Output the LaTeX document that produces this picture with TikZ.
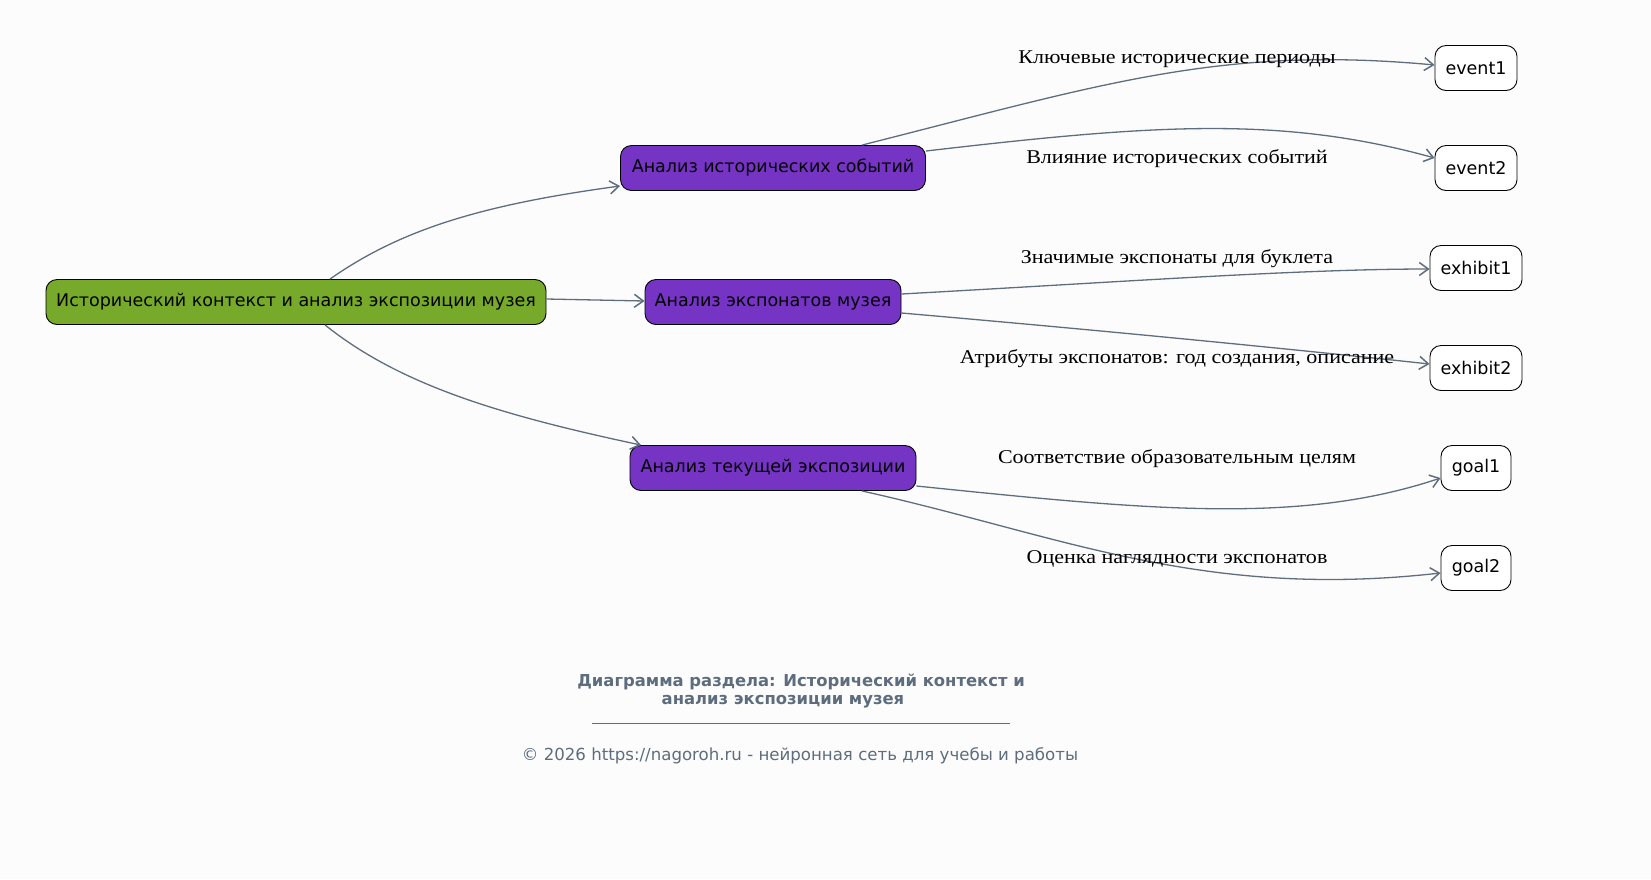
\documentclass[tikz,border=0pt]{standalone}
\usepackage{fontspec}
\setmainfont{Liberation Serif}
\newfontfamily\labfont[FakeStretch=1.13]{Liberation Serif}
\newfontfamily\dv{DejaVu Sans}
\usetikzlibrary{arrows.meta}
\definecolor{bg}{HTML}{FDFCFC}
\definecolor{edgec}{HTML}{5F6E7E}
\definecolor{rootc}{HTML}{77AA2A}
\definecolor{purp}{HTML}{7634C4}
\definecolor{foot}{HTML}{5D6D7E}
\begin{document}
\begin{tikzpicture}[x=1pt,y=-1pt,
  box/.style={draw=black,line width=0.9pt,rounded corners=11pt,minimum height=45pt,inner sep=0pt,font=\dv\fontsize{17.5}{20}\selectfont,anchor=center},
  rootbox/.style={box,fill=rootc},
  midbox/.style={box,fill=purp},
  leafbox/.style={box,fill=white},
  conn/.style={draw=edgec,line width=1.3pt,-{Straight Barb[length=9pt,width=13pt,line width=1.5pt]}},
  lab/.style={font=\labfont\fontsize{19.5}{22}\selectfont,inner sep=0pt}]
\fill[bg] (0,0) rectangle (1651,879);
\useasboundingbox (0,0) rectangle (1651,879);

\node[rootbox,minimum width=500pt] (root) at (296,302) {Исторический контекст и анализ экспозиции музея};
\node[midbox,minimum width=305pt] (hist) at (773,168) {Анализ исторических событий};
\node[midbox,minimum width=256pt] (exh) at (773,302) {Анализ экспонатов музея};
\node[midbox,minimum width=286pt] (cur) at (773,468) {Анализ текущей экспозиции};

\node[leafbox,minimum width=82pt] (event1) at (1476,68) {event1};
\node[leafbox,minimum width=82pt] (event2) at (1476,168) {event2};
\node[leafbox,minimum width=92pt] (exhibit1) at (1476,268) {exhibit1};
\node[leafbox,minimum width=92pt] (exhibit2) at (1476,368) {exhibit2};
\node[leafbox,minimum width=70pt] (goal1) at (1476,468) {goal1};
\node[leafbox,minimum width=70pt] (goal2) at (1476,568) {goal2};

\draw[conn] ([xshift=34pt]root.north) .. controls (400,230) and (480,205) .. ([yshift=-18pt]hist.west);
\draw[conn] ([yshift=3pt]root.east) -- ([yshift=1pt]exh.west);
\draw[conn] ([xshift=29pt]root.south) .. controls (400,385) and (500,415) .. ([xshift=-132pt]cur.north);

\draw[conn] ([xshift=89pt]hist.north) .. controls (1100,85) and (1220,45) .. ([yshift=3pt]event1.west);
\draw[conn] ([yshift=17pt]hist.east) .. controls (1150,125) and (1280,115) .. ([yshift=10pt]event2.west);
\draw[conn] ([yshift=8pt]exh.east) .. controls (1120,282) and (1300,269) .. ([yshift=-1pt]exhibit1.west);
\draw[conn] ([yshift=-11pt]exh.east) .. controls (1120,332) and (1300,350) .. ([yshift=4pt]exhibit2.west);
\draw[conn] ([yshift=-18pt]cur.east) .. controls (1150,510) and (1300,525) .. ([yshift=-10pt]goal1.west);
\draw[conn] ([xshift=89pt]cur.south) .. controls (1060,535) and (1200,600) .. ([yshift=-5pt]goal2.west);

\node[lab] (l1) at (1177,59) {Ключевые исторические периоды};
\node[lab] (l2) at (1177,159) {Влияние исторических событий};
\node[lab] (l3) at (1177,259) {Значимые экспонаты для буклета};
\node[lab] (l4) at (1177,359) {Атрибуты экспонатов: год создания, описание};
\node[lab] (l5) at (1177,459) {Соответствие образовательным целям};
\node[lab] (l6) at (1177,559) {Оценка наглядности экспонатов};

\node[font=\dv\bfseries\fontsize{16.4}{18}\selectfont,text=foot,align=center,inner sep=0pt] (title) at (801,691) {Диаграмма раздела: Исторический контекст и\\анализ экспозиции музея\hspace*{2.2em}};
\node[text=foot,inner sep=0pt] (rule) at (801,723) {\rule{418pt}{0.6pt}};
\node[font=\dv\fontsize{16.6}{19}\selectfont,text=foot,inner sep=0pt] (copy) at (800,756) {© 2026 https://nagoroh.ru - нейронная сеть для учебы и работы};
\end{tikzpicture}
\end{document}
